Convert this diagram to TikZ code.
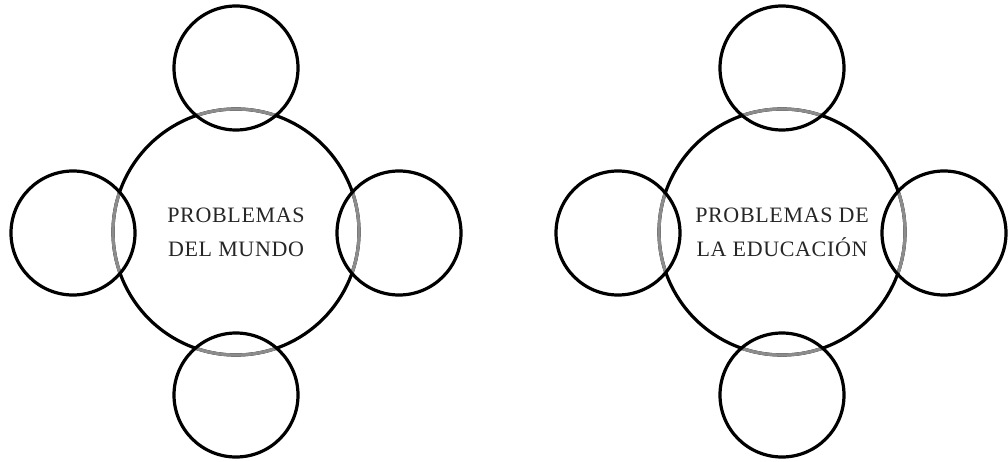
\documentclass[tikz,border=0pt]{standalone}
\usepackage{fontspec}
\setmainfont{Liberation Serif}
\newfontfamily\labelfont[LetterSpace=3]{Liberation Serif}
\begin{document}
\begin{tikzpicture}[x=1pt,y=-1pt,
  bigc/.style={circle,draw=black,line width=3.2pt,minimum size=246pt,inner sep=0pt,align=center,
    font=\labelfont\fontsize{22}{34}\selectfont,text=black!85},
  smallc/.style={circle,draw=black,line width=3.2pt,minimum size=124pt,inner sep=0pt},
  grayarc/.style={draw=black!45,line width=3.2pt}]
\useasboundingbox (0,0) rectangle (1008,462);
% left cluster
\coordinate (Lc) at (236,232);
\coordinate (Lt) at (236,68);
\coordinate (Lb) at (236,395);
\coordinate (Ll) at (73,233);
\coordinate (Lr) at (399,233);
\node[bigc] (L) at (Lc) {PROBLEMAS\\DEL MUNDO};
\foreach \p in {Lt,Lb,Ll,Lr}{
  \begin{scope}
    \clip (\p) circle (62);
    \draw[grayarc] (Lc) circle (123);
  \end{scope}
}
\node[smallc] (Ltn) at (Lt) {};
\node[smallc] (Lbn) at (Lb) {};
\node[smallc] (Lln) at (Ll) {};
\node[smallc] (Lrn) at (Lr) {};
% right cluster
\coordinate (Rc) at (782,232);
\coordinate (Rt) at (782,68);
\coordinate (Rb) at (782,395);
\coordinate (Rl) at (618,233);
\coordinate (Rr) at (944,233);
\node[bigc] (R) at (Rc) {PROBLEMAS DE\\LA EDUCACIÓN};
\foreach \p in {Rt,Rb,Rl,Rr}{
  \begin{scope}
    \clip (\p) circle (62);
    \draw[grayarc] (Rc) circle (123);
  \end{scope}
}
\node[smallc] (Rtn) at (Rt) {};
\node[smallc] (Rbn) at (Rb) {};
\node[smallc] (Rln) at (Rl) {};
\node[smallc] (Rrn) at (Rr) {};
\end{tikzpicture}
\end{document}
